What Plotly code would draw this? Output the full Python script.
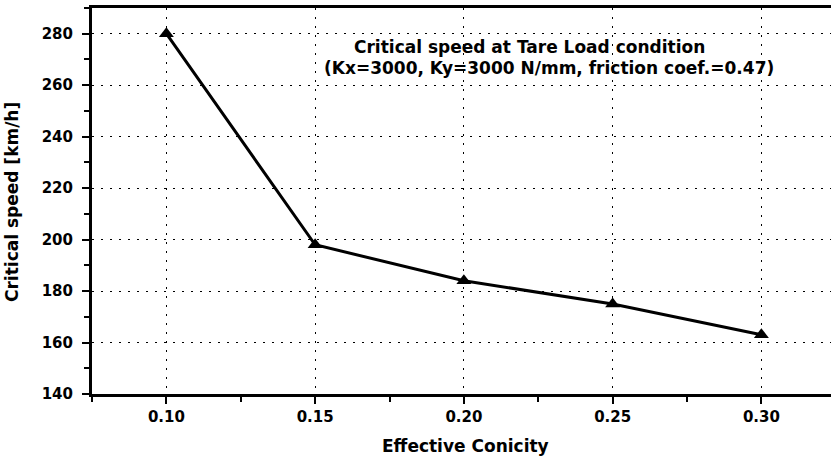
import plotly.graph_objects as go

conicity = [0.10, 0.15, 0.20, 0.25, 0.30]
critical_speed = [280, 198, 184, 175, 163]
x_ticks = [0.10, 0.15, 0.20, 0.25, 0.30]
x_ticklabels = ["0.10", "0.15", "0.20", "0.25", "0.30"]
y_ticks = [140, 160, 180, 200, 220, 240, 260, 280]
title_line1 = "Critical speed at Tare Load condition"
title_line2 = "(Kx=3000, Ky=3000 N/mm, friction coef.=0.47)"
x_title = "Effective Conicity"
y_title = "Critical speed [km/h]"

FONT = "DejaVu Sans, sans-serif"
BOLD = dict(family=FONT, size=15, color="black", weight="bold")

L, R, T, B = 92, 831, 8, 394
PW, PH = R - L, B - T


def px(x):
    return (x - L) / PW


def py(y):
    return (B - y) / PH


fig = go.Figure()
fig.add_trace(go.Scatter(
    x=conicity, y=critical_speed, mode="lines+markers",
    line=dict(color="black", width=3),
    marker=dict(symbol="triangle-up", size=13, color="black"),
    showlegend=False,
))

fig.update_layout(
    width=831, height=458,
    margin=dict(l=L, r=831 - R, t=T, b=458 - B),
    paper_bgcolor="white", plot_bgcolor="white",
    font=dict(family=FONT, size=15, color="black"),
    xaxis=dict(
        range=[0.075, 0.3234], tickvals=x_ticks, ticktext=x_ticklabels,
        automargin=False,
        showline=True, linewidth=3, linecolor="black", mirror=True,
        ticks="outside", ticklen=7, tickwidth=2, tickcolor="black",
        minor=dict(dtick=0.025, tick0=0.075, ticks="outside", ticklen=5, tickwidth=2, tickcolor="black", showgrid=False),
        showgrid=True, gridcolor="black", gridwidth=1, griddash="2px,7px",
        zeroline=False,
        tickfont=BOLD,
    ),
    yaxis=dict(
        range=[140, 290], tickvals=y_ticks,
        automargin=False,
        showline=True, linewidth=3, linecolor="black",
        ticks="outside", ticklen=7, tickwidth=2, tickcolor="black",
        minor=dict(dtick=10, tick0=140, ticks="outside", ticklen=5, tickwidth=2, tickcolor="black", showgrid=False),
        showgrid=True, gridcolor="black", gridwidth=1, griddash="2px,7px",
        zeroline=False,
        tickfont=BOLD,
        ticklabelstandoff=6,
    ),
)

fig.add_annotation(text=x_title, xref="paper", yref="paper", x=px(465), y=py(446),
                   showarrow=False, xanchor="center", yanchor="middle", font=dict(BOLD, size=17))
fig.add_annotation(text=y_title, xref="paper", yref="paper", x=px(12), y=py(202),
                   showarrow=False, xanchor="center", yanchor="middle", textangle=-90,
                   font=dict(BOLD, size=17))
fig.add_annotation(text=title_line1, xref="paper", yref="paper", x=px(529), y=py(47),
                   showarrow=False, xanchor="center", yanchor="middle", font=dict(BOLD, size=17))
fig.add_annotation(text=title_line2, xref="paper", yref="paper", x=px(549), y=py(68),
                   showarrow=False, xanchor="center", yanchor="middle", font=dict(BOLD, size=17))

fig.write_html("out.html", config={"displayModeBar": False},
               post_script="document.body.style.margin='0px';")
